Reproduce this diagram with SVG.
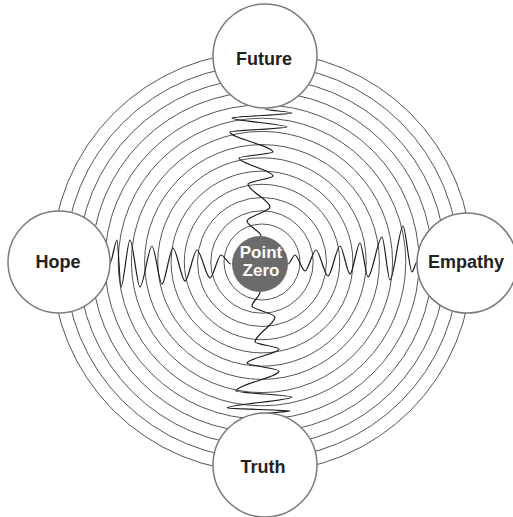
<svg xmlns="http://www.w3.org/2000/svg" width="513" height="517" viewBox="0 0 513 517">
<style>
.ring{fill:none;stroke:#555;stroke-width:1}
.wave{fill:none;stroke:#1a1a1a;stroke-width:1.2}
.node{fill:#fff;stroke:#7a7a7a;stroke-width:1.5}
.lbl{font-family:"Liberation Sans",Arial,sans-serif;font-weight:bold;font-size:18px;fill:#222;text-anchor:middle}
.ctr{font-family:"Liberation Sans",Arial,sans-serif;font-weight:bold;font-size:17px;fill:#fff;text-anchor:middle}
</style>
<rect width="513" height="517" fill="#fff"/>
<g id="rings">
<circle class="ring" cx="262" cy="262" r="38"/>
<circle class="ring" cx="262" cy="262" r="51.2"/>
<circle class="ring" cx="262" cy="262" r="64.5"/>
<circle class="ring" cx="262" cy="262" r="77.7"/>
<circle class="ring" cx="262" cy="262" r="90.9"/>
<circle class="ring" cx="262" cy="262" r="104.2"/>
<circle class="ring" cx="262" cy="262" r="117.4"/>
<circle class="ring" cx="262" cy="262" r="130.6"/>
<circle class="ring" cx="262" cy="262" r="143.8"/>
<circle class="ring" cx="262" cy="262" r="157.1"/>
<circle class="ring" cx="262" cy="262" r="170.3"/>
<circle class="ring" cx="262" cy="262" r="183.5"/>
<circle class="ring" cx="262" cy="262" r="196.8"/>
<circle class="ring" cx="262" cy="262" r="210"/>
</g>
<g id="connectors">
<path class="wave" d="M265,109 C265,110.2 292,111.8 292,113 C292,114.5 232,116.5 232,118 C232,120.7 287,124.3 287,127 C287,128.5 230,130.5 230,132 C230,138 273,146 273,152 C273,153.8 239,156.2 239,158 C239,163.4 273,170.6 273,176 C273,178.4 248,181.6 248,184 C248,190.9 270,200.1 270,207 C270,211.2 247,216.8 247,221 C247,225.5 261,231.5 261,236"/>
<path class="wave" d="M260,292 C260,296.2 252,301.8 252,306 C252,309.3 275,313.7 275,317 C275,324.5 255,334.5 255,342 C255,344.1 279,346.9 279,349 C279,353.2 247,358.8 247,363 C247,365.4 279,368.6 279,371 C279,377 236,385 236,391 C236,392.8 292,395.2 292,397 C292,400.3 227,404.7 227,408 C227,408.9 290,410.1 290,411 C290,411.9 262,413.1 262,414"/>
<path class="wave" d="M110,263 C112.1,263 114.9,240 117,240 C118.2,240 119.8,287 121,287 C123.7,287 127.3,240 130,240 C133,240 137,287 140,287 C143.6,287 148.4,246 152,246 C155,246 159,284 162,284 C165.3,284 169.7,248 173,248 C176.6,248 181.4,281 185,281 C188.6,281 193.4,250 197,250 C200.9,250 206.1,278 210,278 C213.3,278 217.7,255 221,255 C224,255 228,264 231,264"/>
<path class="wave" d="M288,264 C290.1,264 292.9,255 295,255 C298,255 302,271 305,271 C308.3,271 312.7,250 316,250 C319.6,250 324.4,276 328,276 C331.6,276 336.4,246 340,246 C343,246 347,274 350,274 C353,274 357,243 360,243 C362.4,243 365.6,277 368,277 C372.2,277 377.8,237 382,237 C384.4,237 387.6,280 390,280 C393.9,280 399.1,226 403,226 C405.7,226 409.3,272 412,272 C413.5,272 415.5,262 417,262"/>
</g>
<g id="point-zero">
<circle cx="260" cy="264" r="28" fill="#6b6b6b"/>
<text class="ctr" x="261" y="258">Point</text>
<text class="ctr" x="261" y="276">Zero</text>
</g>
<g id="future">
<circle class="node" cx="265" cy="56" r="52"/>
<text class="lbl" x="264" y="65">Future</text>
</g>
<g id="hope">
<circle class="node" cx="59" cy="262" r="51"/>
<text class="lbl" x="58" y="268">Hope</text>
</g>
<g id="empathy">
<circle class="node" cx="467" cy="263" r="50"/>
<text class="lbl" x="466" y="268">Empathy</text>
</g>
<g id="truth">
<circle class="node" cx="265" cy="465" r="52"/>
<text class="lbl" x="263" y="473">Truth</text>
</g>
</svg>
